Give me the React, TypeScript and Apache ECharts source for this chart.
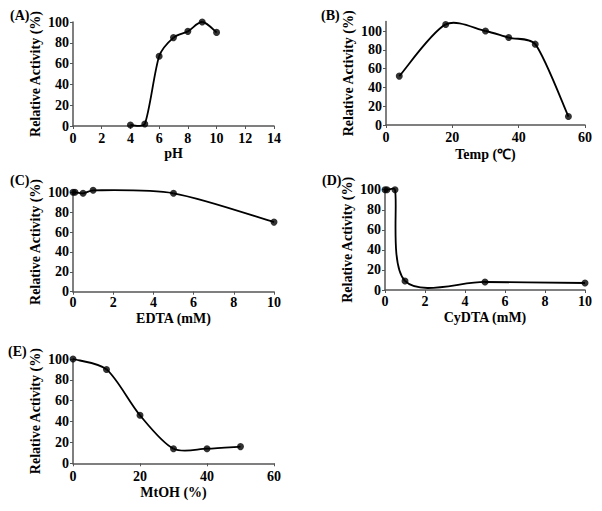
import React, { useEffect, useRef } from "react";
import * as echarts from "echarts";

// Panel A: pH
const phX = [4, 5, 6, 7, 8, 9, 10];
const phY = [1, 2, 67, 85, 91, 100, 90];
// Panel B: Temp
const tempX = [4, 18, 30, 37, 45, 55];
const tempY = [52, 107, 100, 93, 86, 9];
// Panel C: EDTA
const edtaX = [0, 0.1, 0.5, 1, 5, 10];
const edtaY = [100, 100, 99, 102, 99, 70];
// Panel D: CyDTA
const cydtaX = [0, 0.1, 0.5, 1, 5, 10];
const cydtaY = [100, 100, 100, 9, 8, 7];
// Panel E: MtOH
const mtohX = [0, 10, 20, 30, 40, 50];
const mtohY = [100, 90, 46, 14, 14, 16];

const yTicks = [0, 20, 40, 60, 80, 100];
const panelLabels = ["(A)", "(B)", "(C)", "(D)", "(E)"];
const xNames = ["pH", "Temp (\u2103)", "EDTA (mM)", "CyDTA (mM)", "MtOH (%)"];
const yName = "Relative Activity (%)";

const FONT = "'Liberation Serif', 'Times New Roman', serif";

function smoothRenderer(xs: number[], ys: number[]) {
  const n = xs.length;
  const clamp = (k: number) => Math.max(0, Math.min(n - 1, k));
  const ctrl = (from: number[], tangent: number[], segLen: number, sign: number) => {
    const tl = Math.hypot(tangent[0], tangent[1]);
    if (tl === 0) return from;
    const dist = Math.min(tl / 6, segLen * 0.3);
    return [
      from[0] + sign * (tangent[0] / tl) * dist,
      from[1] + sign * (tangent[1] / tl) * dist,
    ];
  };
  return (params: any, api: any) => {
    const i = params.dataIndex;
    if (i >= n - 1) return null;
    const P = (k: number) => api.coord([xs[clamp(k)], ys[clamp(k)]]);
    const p0 = P(i - 1);
    const p1 = P(i);
    const p2 = P(i + 1);
    const p3 = P(i + 2);
    const segLen = Math.hypot(p2[0] - p1[0], p2[1] - p1[1]);
    const c1 = ctrl(p1, [p2[0] - p0[0], p2[1] - p0[1]], segLen, 1);
    const c2 = ctrl(p2, [p3[0] - p1[0], p3[1] - p1[1]], segLen, -1);
    return {
      type: "bezierCurve",
      shape: {
        x1: p1[0],
        y1: p1[1],
        x2: p2[0],
        y2: p2[1],
        cpx1: c1[0],
        cpy1: c1[1],
        cpx2: c2[0],
        cpy2: c2[1],
      },
      style: { stroke: "#000", lineWidth: 1.8, fill: null },
      silent: true,
    };
  };
}

export default function App() {
  const ref = useRef<HTMLDivElement>(null);
  useEffect(() => {
    if (!ref.current) return;
    const chart = echarts.init(ref.current, undefined, { renderer: "svg" });

    const grids = [
      { left: 73, top: 22, width: 201, height: 104 },
      { left: 386, top: 21.6, width: 199, height: 103.4 },
      { left: 73, top: 192.3, width: 201, height: 99.4 },
      { left: 385, top: 189.7, width: 200, height: 100.3 },
      { left: 73, top: 359, width: 201, height: 104.3 },
    ];
    const xCfg = [
      { max: 14, interval: 2, gap: 21.5, margin: 6 },
      { max: 60, interval: 20, gap: 23.5, margin: 6 },
      { max: 10, interval: 2, gap: 21, margin: 5 },
      { max: 10, interval: 2, gap: 21, margin: 5 },
      { max: 60, interval: 20, gap: 23.5, margin: 7 },
    ];
    const yMax = [100, 110, 100, 100, 100];
    const datasets = [
      [phX, phY],
      [tempX, tempY],
      [edtaX, edtaY],
      [cydtaX, cydtaY],
      [mtohX, mtohY],
    ];

    const axisLine = { show: true, lineStyle: { color: "#555", width: 1.5 } };
    const labelStyle = {
      fontFamily: FONT,
      fontWeight: "bold" as const,
      fontSize: 14,
      lineHeight: 12,
      color: "#000",
    };

    const lineSeries = datasets.map(([xs, ys], i) => ({
      type: "custom",
      xAxisIndex: i,
      yAxisIndex: i,
      data: xs.map((x, j) => [x, ys[j]]),
      encode: { x: 0, y: 1 },
      clip: false,
      silent: true,
      renderItem: smoothRenderer(xs, ys),
    }));
    const dotSeries = datasets.map(([xs, ys], i) => ({
      type: "scatter",
      xAxisIndex: i,
      yAxisIndex: i,
      data: xs.map((x, j) => [x, ys[j]]),
      clip: false,
      symbol: "circle",
      symbolSize: 7,
      itemStyle: { color: "#000" },
      z: 5,
    }));

    const option: any = {
      animation: false,
      backgroundColor: "#fff",
      grid: grids.map((g) => ({ ...g, containLabel: false })),
      xAxis: xCfg.map((c, i) => ({
        type: "value",
        gridIndex: i,
        min: 0,
        max: c.max,
        interval: c.interval,
        name: xNames[i],
        nameLocation: "middle",
        nameGap: c.gap,
        nameMoveOverlap: false,
        nameTextStyle: { ...labelStyle },
        axisLine,
        axisTick: { show: true, length: 3, lineStyle: { color: "#555", width: 1 } },
        axisLabel: { ...labelStyle, margin: c.margin },
        splitLine: { show: false },
      })),
      yAxis: yMax.map((m, i) => ({
        type: "value",
        gridIndex: i,
        min: 0,
        max: m,
        interval: 20,
        name: yName,
        nameLocation: "middle",
        nameGap: 32,
        nameRotate: 90,
        nameMoveOverlap: false,
        nameTextStyle: { ...labelStyle },
        axisLine,
        axisTick: {
          show: true,
          length: 3,
          lineStyle: { color: "#555", width: 1 },
          customValues: yTicks,
        },
        axisLabel: { ...labelStyle, margin: 4, customValues: yTicks },
        splitLine: { show: false },
      })),
      series: [...lineSeries, ...dotSeries],
      graphic: [
        { x: 10, y: 15 },
        { x: 321, y: 15 },
        { x: 10, y: 180 },
        { x: 322, y: 180 },
        { x: 8, y: 351 },
      ].map((p, i) => ({
        type: "text",
        x: p.x,
        y: p.y,
        style: {
          text: panelLabels[i],
          fontFamily: FONT,
          fontWeight: "bold",
          fontSize: 14,
          fill: "#000",
          verticalAlign: "middle",
        },
      })),
    };
    chart.setOption(option);
    return () => chart.dispose();
  }, []);
  return <div ref={ref} style={{ width: 602, height: 511, marginLeft: -8, marginTop: -8 }} />;
}
